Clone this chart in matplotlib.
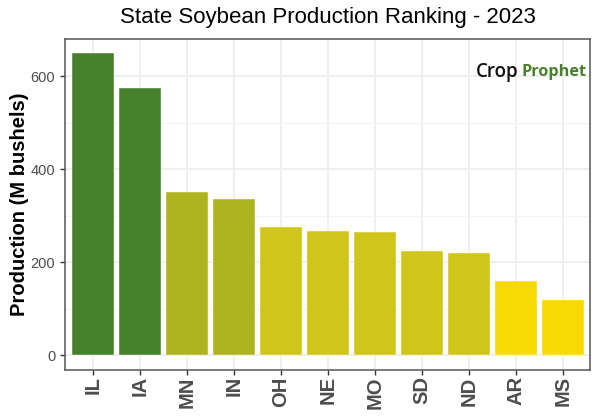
import matplotlib
matplotlib.use("Agg")
import matplotlib.pyplot as plt
from matplotlib.transforms import ScaledTranslation

plt.rcParams['font.family'] = ['Liberation Sans', 'DejaVu Sans']

states = ["IL", "IA", "MN", "IN", "OH", "NE", "MO", "SD", "ND", "AR", "MS"]
production = [650, 574, 350, 335, 275, 267, 265, 223, 219, 160, 119]
colors = ["#47812B", "#47812B", "#ADB420", "#ADB420", "#D0C61A", "#D0C61A",
          "#D0C61A", "#D0C61A", "#D0C61A", "#F7D905", "#F7D905"]
y_ticks = [0, 200, 400, 600]
y_minor = [100, 300, 500]
title = "State Soybean Production Ranking - 2023"
y_label = "Production (M bushels)"

fig = plt.figure(figsize=(6, 4.2), dpi=100)
ax = fig.add_axes([65/600, 1-370/420, 525/600, 331/420])
x = list(range(1, len(states)+1))
ax.set_axisbelow(True)
ax.bar(x, production, width=0.9, color=colors, edgecolor="white", linewidth=0.3)
ax.set_xlim(0.41, 11.58)
ax.set_ylim(-32, 680)
ax.set_xticks(x)
ax.set_xticklabels(states, rotation=90, fontsize=14.5, fontweight="bold", color="#4D4D4D", va="top", ha="center")
shift = ScaledTranslation(1.5/100, 0, fig.dpi_scale_trans)
for lab in ax.get_xticklabels():
    lab.set_transform(lab.get_transform() + shift)
ax.set_yticks(y_ticks)
ax.set_yticks(y_minor, minor=True)
ax.tick_params(axis="y", which="minor", length=0)
ax.tick_params(axis="y", which="major", labelsize=10.5, labelcolor="#4D4D4D", color="#333333", length=3.5, width=1)
ax.tick_params(axis="x", color="#333333", length=3.5, width=1, pad=1)
ax.grid(True, which="major", color="#EFEFEF", linewidth=1.4)
ax.grid(True, which="minor", axis="y", color="#F3F3F3", linewidth=0.8)
for s in ax.spines.values():
    s.set_color("#555555")
    s.set_linewidth(1.1)
ax.set_ylabel(y_label, fontsize=14.5, fontweight="bold", color="black", labelpad=1.5)
fig.text(0.5458, 1-17/420, title, ha="center", va="center", fontsize=16, color="black")
ax.text(0.783, 0.90, "Crop", transform=ax.transAxes, fontsize=13.5, fontweight="semibold",
        color="#111111", ha="left", va="center", family=["Open Sans", "DejaVu Sans"])
ax.text(0.8686, 0.90, "Prophet", transform=ax.transAxes, fontsize=11.7, fontweight="bold",
        color="#47812B", ha="left", va="center", family=["Open Sans", "DejaVu Sans"])
fig.savefig("out.png", dpi=100)
